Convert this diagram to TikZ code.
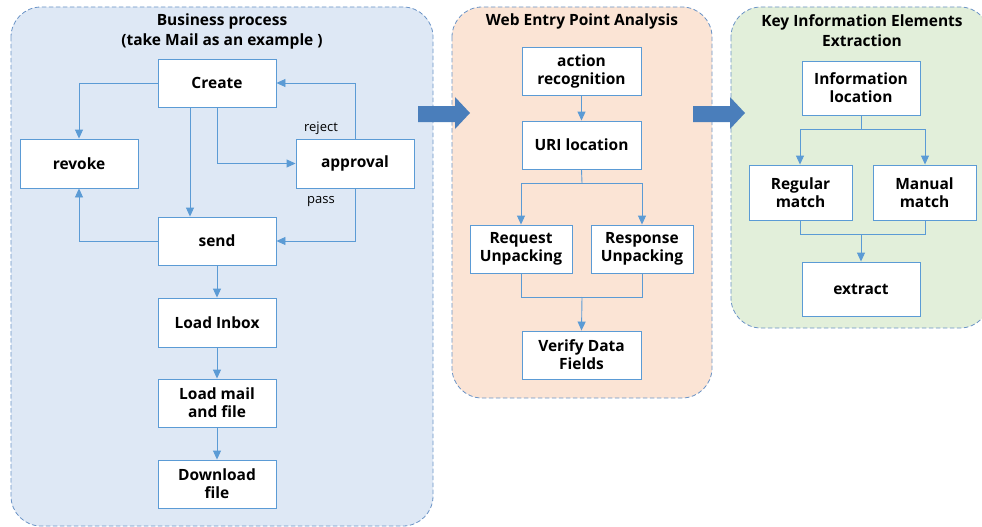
\documentclass[tikz,border=0pt]{standalone}
\usepackage{fontspec}
\setmainfont{Open Sans}
\usetikzlibrary{arrows.meta}
\definecolor{boxline}{HTML}{5B9BD5}
\definecolor{panelline}{HTML}{6A93C6}
\definecolor{bluefill}{HTML}{DEE8F5}
\definecolor{orangefill}{HTML}{FBE4D5}
\definecolor{greenfill}{HTML}{E2EFDA}
\definecolor{bigarrow}{HTML}{4A7EBB}
\tikzset{
  panel/.style={draw=panelline, dashed, dash pattern=on 4.5pt off 2.5pt, line width=0.8pt, rounded corners=30pt},
  stepbox/.style={draw=boxline, fill=white, line width=0.9pt, align=center, font=\fontsize{15.5}{18}\selectfont\bfseries, inner sep=0pt},
  ptitle/.style={align=center, font=\fontsize{15.5}{20}\selectfont\bfseries, inner sep=0pt},
  conn/.style={draw=boxline, line width=0.9pt, -{Triangle[length=9pt,width=8pt]}},
  seg/.style={draw=boxline, line width=0.9pt},
  lbl/.style={font=\fontsize{13}{15}\selectfont, inner sep=0pt},
}
\newcommand{\boxat}[6]{\node[stepbox, minimum width=#4-#2, minimum height=#5-#3] (#1) at ({(#2+#4)/2},{(#3+#5)/2}) {#6};}
\begin{document}
\begin{tikzpicture}[x=1pt,y=-1pt]
\useasboundingbox (0,0) rectangle (982,527);
% panels
\path[panel, fill=bluefill] (11,7) rectangle (433,526);
\path[panel, fill=orangefill] (452,7) rectangle (712,398);
\path[panel, fill=greenfill] (731,7) rectangle (990,328);
% titles
\node[ptitle] (t1) at (222,31) {Business process\\(take Mail as an example )};
\node[ptitle] (t2) at (582,21) {Web Entry Point Analysis};
\node[ptitle] (t3) at (862,31) {Key Information Elements\\Extraction};
% big arrows
\fill[bigarrow] (418,106) -- (455,106) -- (455,97) -- (470,113) -- (455,129) -- (455,122) -- (418,122) -- cycle;
\fill[bigarrow] (693,106) -- (730,106) -- (730,97) -- (745,113) -- (730,129) -- (730,122) -- (693,122) -- cycle;
% panel 1 boxes
\boxat{create}{158}{59}{276}{107}{Create}
\boxat{revoke}{20}{139}{138}{188}{revoke}
\boxat{approval}{296}{139}{414}{188}{approval}
\boxat{send}{158}{217}{276}{265}{send}
\boxat{inbox}{158}{298}{276}{347}{Load Inbox}
\boxat{mail}{158}{379}{276}{427}{Load mail\\and file}
\boxat{download}{158}{460}{276}{508}{Download\\file}
% panel 1 connectors
\draw[conn] (create.west) -| (revoke.north);
\draw[conn] (create.south -| 190,0) -- (send.north -| 190,0);
\draw[conn] (create.south -| 217,0) |- (approval.west);
\draw[conn] (approval.north) |- (create.east);
\draw[conn] (approval.south) |- (send.east);
\draw[conn] (send.west) -| (revoke.south);
\draw[conn] (send) -- (inbox);
\draw[conn] (inbox) -- (mail);
\draw[conn] (mail) -- (download);
\node[lbl] (reject) at (321,128) {reject};
\node[lbl] (pass) at (321,202) {pass};
% panel 2 boxes
\boxat{action}{522}{47}{641}{95}{action\\recognition}
\boxat{uri}{522}{121}{641}{169}{URI location}
\boxat{req}{470}{225}{572}{273}{Request\\Unpacking}
\boxat{resp}{591}{225}{693}{273}{Response\\Unpacking}
\boxat{verify}{522}{331}{641}{379}{Verify Data\\Fields}
\coordinate (s2) at (582,183);
\coordinate (j2) at (582,297);
\draw[conn] (action) -- (uri);
\draw[seg] (uri.south) -- (s2);
\draw[conn] (s2) -| (req.north);
\draw[conn] (s2) -| (resp.north);
\draw[seg] (req.south) |- (j2);
\draw[seg] (resp.south) |- (j2);
\draw[conn] (j2) -- (verify.north);
% panel 3 boxes
\boxat{info}{802}{61}{920}{115}{Information\\location}
\boxat{regular}{749}{165}{852}{220}{Regular\\match}
\boxat{manual}{873}{165}{976}{220}{Manual\\match}
\boxat{extract}{802}{262}{920}{316}{extract}
\coordinate (s3) at (861,129);
\coordinate (j3) at (861,234);
\draw[seg] (info.south) -- (s3);
\draw[conn] (s3) -| (regular.north -| 800,0);
\draw[conn] (s3) -| (manual.north -| 925,0);
\draw[seg] (regular.south -| 800,0) |- (j3);
\draw[seg] (manual.south -| 925,0) |- (j3);
\draw[conn] (j3) -- (extract.north);
\end{tikzpicture}
\end{document}
